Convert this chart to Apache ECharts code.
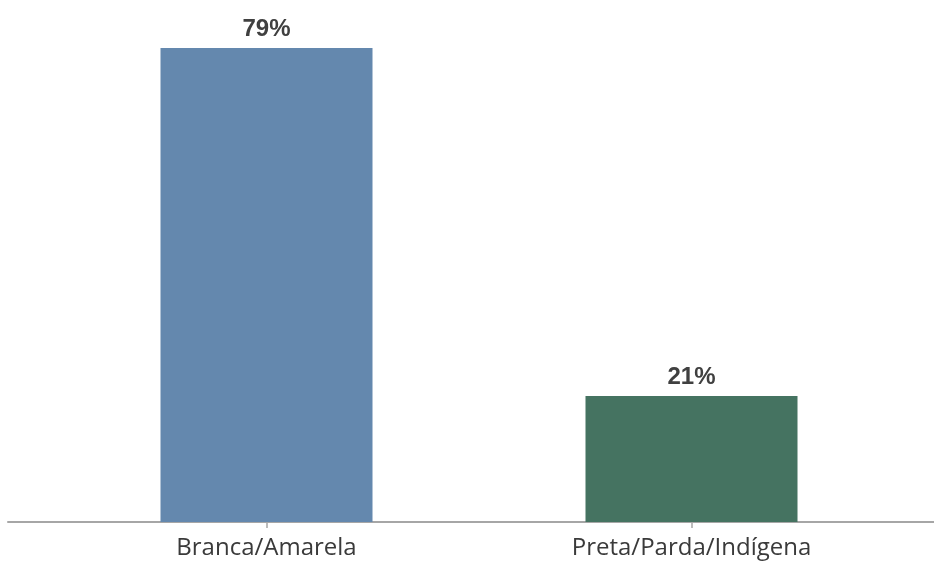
<!DOCTYPE html>
<html>
<head>
<meta charset="utf-8">
<script src="https://cdn.jsdelivr.net/npm/echarts@6/dist/echarts.min.js"></script>
<style>
    html, body { margin: 0; padding: 0; background: #fff; }
    #main { width: 934px; height: 563px; }
</style>
</head>
<body>
<div id="main"></div>
<script>
    // dados do grafico
    var categorias = ['Branca/Amarela', 'Preta/Parda/Indígena'];
    var valores = [79, 21];
    var cores = ['#6488ae', '#457361'];

    var chartDom = document.getElementById('main');
    var myChart = echarts.init(chartDom);
    var option;

    option = {
        animation: false,
        grid: [
            {left: 54, width: 850, top: 42, bottom: 41},
            // so a linha do eixo, mais larga que as barras
            {left: 8, right: 0, top: 42, bottom: 41}
        ],
        xAxis: [
            {
                type: 'category',
                gridIndex: 0,
                data: categorias,
                axisLine: {show: false},
                axisTick: {
                    show: true,
                    alignWithLabel: true,
                    length: 6,
                    lineStyle: {color: '#a6a6a6', width: 1.5}
                },
                axisLabel: {
                    margin: 14,
                    fontFamily: 'Open Sans',
                    fontSize: 24,
                    color: '#3a3a3a'
                }
            },
            {
                type: 'value',
                gridIndex: 1,
                min: 0,
                max: 1,
                axisLine: {show: true, lineStyle: {color: '#a6a6a6', width: 2}},
                axisTick: {show: false},
                axisLabel: {show: false},
                splitLine: {show: false}
            }
        ],
        yAxis: [
            {type: 'value', gridIndex: 0, min: 0, max: 80, show: false},
            {type: 'value', gridIndex: 1, show: false}
        ],
        series: [
            {
                type: 'bar',
                xAxisIndex: 0,
                yAxisIndex: 0,
                barWidth: 212,
                data: valores.map(function (v, i) {
                    return {value: v, itemStyle: {color: cores[i]}};
                }),
                label: {
                    show: true,
                    position: 'top',
                    distance: 7,
                    formatter: '{c}%',
                    fontFamily: 'Liberation Sans',
                    fontWeight: 'bold',
                    fontSize: 24,
                    color: '#404040'
                }
            }
        ]
    };

    myChart.setOption(option);
</script>
</body>
</html>
